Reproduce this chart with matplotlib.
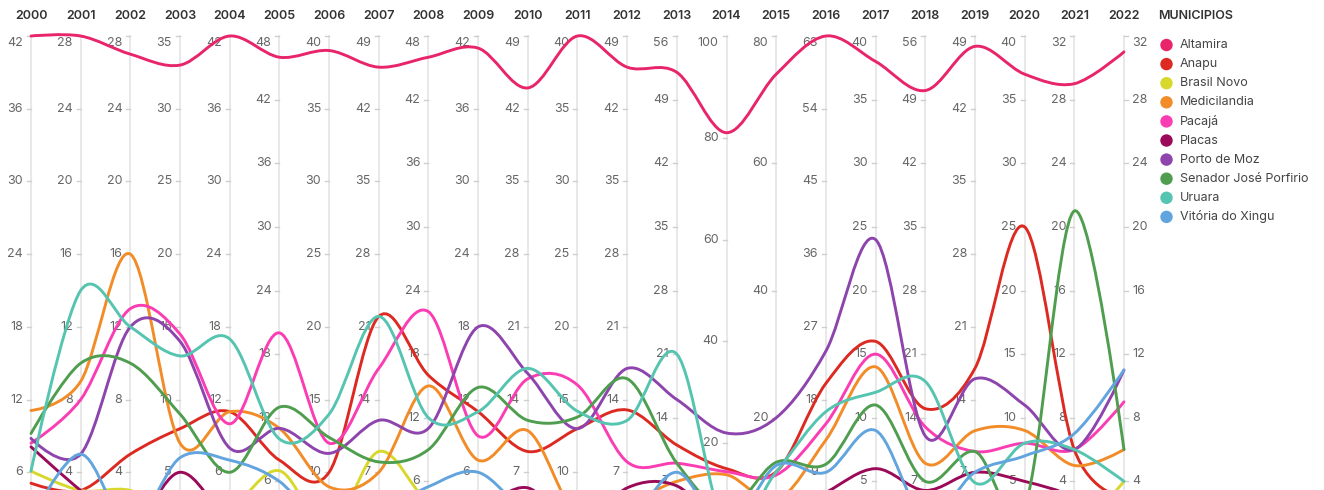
import matplotlib
matplotlib.use("Agg")
import matplotlib.pyplot as plt
from matplotlib.path import Path
from matplotlib.patches import PathPatch

plt.rcParams['font.family'] = ['Inter', 'DejaVu Sans']

years = [str(y) for y in range(2000, 2023)]
axis_top = [42, 28, 28, 35, 42, 48, 40, 49, 48, 42, 49, 40, 49, 56, 100, 80, 63, 40, 56, 49, 40, 32, 32]
axis_min = [0, 0, 0, 0, 0, 0, 5, 0, 0, 0, 0, 5, 0, 0, 0, 0, 0, 0, 0, 0, 0, 0, 0]
axis_step = [6, 4, 4, 5, 6, 6, 5, 7, 6, 6, 7, 5, 7, 7, 20, 20, 9, 5, 7, 7, 5, 4, 4]

municipios = ["Altamira", "Anapu", "Brasil Novo", "Medicilandia", "Pacajá", "Placas",
              "Porto de Moz", "Senador José Porfirio", "Uruara", "Vitória do Xingu"]
colors = ["#e8246b", "#dc2a22", "#d8d82c", "#f28c28", "#fb3db4", "#9a0a58",
          "#8e44ad", "#4f9e4f", "#55c4b0", "#62a4de"]

altamira = [42, 28, 27, 33, 42, 46, 39, 46, 46, 41, 44, 40, 46, 52, 81, 74, 63, 38, 50, 48, 37, 29, 31]
anapu = [5.1, 3, 5, 8, 11, 8, 10, 22, 16, 11, 9, 13, 13, 11, 15, 11.5, 20, 16, 15, 17, 25, 6, 3]
brasil_novo = [6.1, 3, 3, 2, 3, 7, 6, 9, 4, 2, 2, 5, 2, 3, 4, 3, 3, 2, 2, 2, 2, 1, 4]
medicilandia = [11.1, 9, 16, 7, 11, 11, 9, 7, 15, 7, 11, 7, 4, 7, 13.8, 7, 13, 14, 9, 11, 9, 5, 6]
pacaja = [8.4, 8, 13, 14.5, 10, 20, 12, 17, 22, 9, 16, 16, 8, 9, 14.4, 11, 15, 15, 13, 9, 8, 6, 9]
placas = [8.1, 3, 1, 5, 2, 1, 5, 2, 3, 3, 5.5, 6, 5.5, 6.5, 3, 4, 6.5, 6, 6, 7, 5, 3, 1]
porto_de_moz = [8.8, 5, 12, 14, 8, 11, 11.3, 12, 11, 18, 16.5, 13, 17, 16, 22, 20, 24, 24, 12, 16, 11, 6, 11]
senador = [9.2, 10, 10, 9, 6, 13, 12.4, 8, 9, 13, 12, 13.8, 16, 9, 7, 13, 10, 11, 7, 9, 3, 21, 6]
uruara = [6.1, 14, 12, 13, 17, 10, 14, 22, 12, 11, 17, 14.2, 12, 21, 3, 11.5, 16.5, 12, 18, 6, 8, 6, 4]
vitoria = [2, 5, 1, 6, 7, 6, 6, 3, 5.5, 6, 3, 6, 2, 8, 3, 12.5, 9, 9, 3, 7, 7, 7, 11]

series = [altamira, anapu, brasil_novo, medicilandia, pacaja, placas,
          porto_de_moz, senador, uruara, vitoria]


def cardinal_path(xs, ys, k=1 / 6):
    # same construction as d3.curveCardinal (tension 0)
    pts = list(zip(xs, ys))
    n = len(pts)
    verts = [pts[0]]
    codes = [Path.MOVETO]
    for i in range(n - 1):
        p1 = pts[i]
        p2 = pts[i + 1]
        p0 = pts[i - 1] if i > 0 else p2
        p3 = pts[i + 2] if i + 2 < n else p1
        c1 = (p1[0] + k * (p2[0] - p0[0]), p1[1] + k * (p2[1] - p0[1]))
        c2 = (p2[0] + k * (p1[0] - p3[0]), p2[1] + k * (p1[1] - p3[1]))
        if i == 0:
            c1 = p1
        if i == n - 2:
            c2 = p2
        verts += [c1, c2, p2]
        codes += [Path.CURVE4] * 3
    return Path(verts, codes)


W, H = 1324, 490
px_x0, px_dx = 31, 49.68
px_top, px_bot = 36, 545

fig = plt.figure(figsize=(W / 100, H / 100), dpi=100)
ax = fig.add_axes([px_x0 / W, (H - px_bot) / H, 22 * px_dx / W, (px_bot - px_top) / H])
ax.set_xlim(0, 22)
ax.set_ylim(0, 1)
ax.axis('off')

ux = 1 / px_dx            # one pixel in x data units
uy = 1 / (px_bot - px_top)  # one pixel in y data units

# axes, ticks and labels
for i, year in enumerate(years):
    ax.plot([i, i], [0, 1], color='#e4e4e4', lw=1.2, zorder=0, clip_on=False)
    top, mn, step = axis_top[i], axis_min[i], axis_step[i]
    last = i == len(years) - 1
    t = mn + step
    while t <= top:
        ny = (t - mn) / (top - mn)
        if last:
            ax.plot([i, i + 4 * ux], [ny, ny], color='#cfcfcf', lw=1, zorder=0, clip_on=False)
        else:
            ax.plot([i - 4 * ux, i], [ny, ny], color='#cfcfcf', lw=1, zorder=0, clip_on=False)
        ly = ny - 7 * uy if t == top else ny
        ax.text(i + 8 * ux if last else i - 8 * ux, ly, str(t),
                ha='left' if last else 'right', va='center',
                fontsize=9, color='#666666', zorder=1, clip_on=False)
        t += step
    ax.text(i, 1 + 20 * uy, year, ha='center', va='center', fontsize=9,
            fontweight='semibold', color='#333333', clip_on=False)

# lines
xs = list(range(len(years)))
for vals, col in zip(series, colors):
    ys = [(v - axis_min[i]) / (axis_top[i] - axis_min[i]) for i, v in enumerate(vals)]
    patch = PathPatch(cardinal_path(xs, ys), facecolor='none', edgecolor=col,
                      lw=2.1, zorder=3, clip_on=False, capstyle='round', joinstyle='round')
    ax.add_patch(patch)

# legend
lx = (1158 - px_x0) / px_dx
ax.text(lx, 1 + 20 * uy, "MUNICIPIOS", ha='left', va='center', fontsize=9,
        fontweight='semibold', color='#333333', clip_on=False)
for k, (name, col) in enumerate(zip(municipios, colors)):
    py = 45 + 19.1 * k
    ny = (px_bot - py) / (px_bot - px_top)
    ax.scatter([(1166.5 - px_x0) / px_dx], [ny], s=80, color=col, edgecolors='none',
               zorder=4, clip_on=False)
    ax.text((1180 - px_x0) / px_dx, ny, name, ha='left', va='center', fontsize=9,
            color='#444444', clip_on=False)

fig.savefig("out.png", dpi=100, facecolor='white')
